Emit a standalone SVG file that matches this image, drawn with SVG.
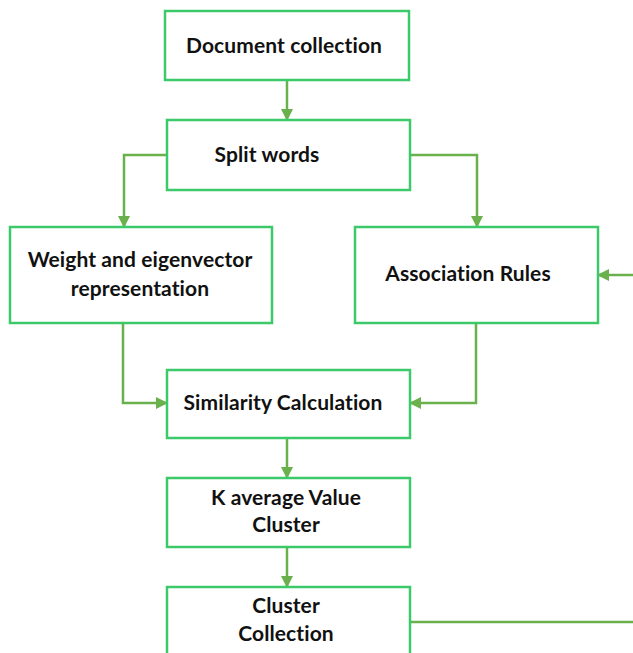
<svg xmlns="http://www.w3.org/2000/svg" width="633" height="653" viewBox="0 0 633 653">
<defs>
<marker id="ah" markerWidth="12" markerHeight="12" refX="11" refY="6" orient="auto" markerUnits="userSpaceOnUse">
<path d="M0,0 L12,6 L0,12 Z" fill="#6ab04c"/>
</marker>
<style>
.box{fill:#fff;stroke:#3cc96a;stroke-width:2.5}
.c{fill:none;stroke:#6ab04c;stroke-width:2.5;marker-end:url(#ah)}
.c2{fill:none;stroke:#6ab04c;stroke-width:2.5}
text{font-family:Lato,"Open Sans",sans-serif;font-weight:bold;font-size:21px;fill:#111;letter-spacing:0.1px}
</style>
</defs>
<rect width="633" height="653" fill="#fff"/>
<g id="connectors">
<path class="c" d="M287,80 V120"/>
<path class="c" d="M167,155 H124 V227"/>
<path class="c" d="M410,155 H477 V227"/>
<path class="c" d="M633,275 H598"/>
<path class="c" d="M123,323 V403 H167"/>
<path class="c" d="M476,323 V403 H410"/>
<path class="c" d="M287,438 V478"/>
<path class="c" d="M287,547 V587"/>
<path class="c2" d="M410,622 H633"/>
</g>
<g id="doc"><rect class="box" x="165" y="11" width="244" height="69"/><text x="284" y="53" text-anchor="middle">Document collection</text></g>
<g id="split"><rect class="box" x="167" y="120" width="243" height="70"/><text x="267" y="162" text-anchor="middle">Split words</text></g>
<g id="weight"><rect class="box" x="10" y="227" width="262" height="96"/><text x="140" y="267" text-anchor="middle">Weight and eigenvector</text><text x="140" y="296" text-anchor="middle">representation</text></g>
<g id="assoc"><rect class="box" x="355" y="227" width="243" height="96"/><text x="468" y="281" text-anchor="middle">Association Rules</text></g>
<g id="sim"><rect class="box" x="167" y="370" width="243" height="68"/><text x="283" y="410" text-anchor="middle">Similarity Calculation</text></g>
<g id="kavg"><rect class="box" x="167" y="478" width="243" height="69"/><text x="286" y="505" text-anchor="middle">K average Value</text><text x="286" y="532" text-anchor="middle">Cluster</text></g>
<g id="cluster"><rect class="box" x="167" y="587" width="243" height="80"/><text x="286" y="613" text-anchor="middle">Cluster</text><text x="286" y="641" text-anchor="middle">Collection</text></g>
</svg>
